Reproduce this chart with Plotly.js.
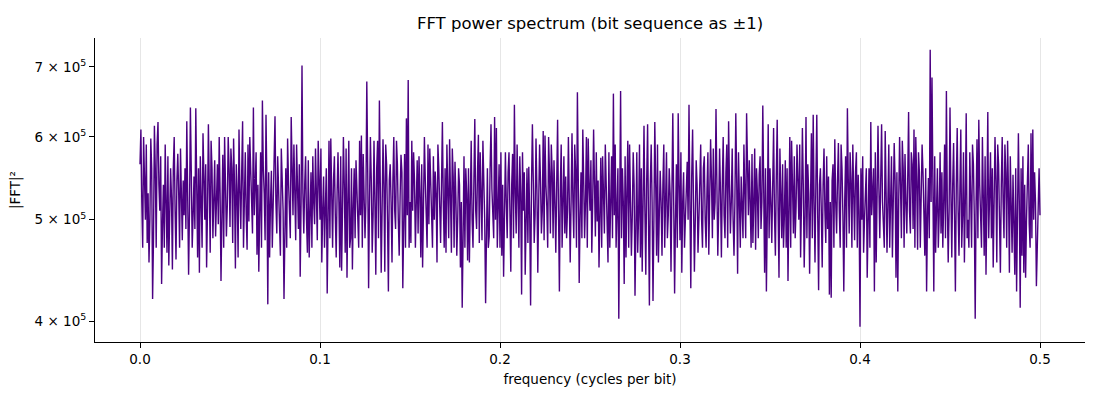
<!DOCTYPE html>
<html>
<head>
<meta charset="utf-8">
<script src="https://cdn.plot.ly/plotly-3.0.1.min.js"></script>
<style>
  body { margin: 0; background: #fff; }
  #chart { width: 1100px; height: 400px; }
</style>
</head>
<body>
<div id="chart"></div>
<script>
// bits in the sequence -> rfft bins at k / nBits, k = 0..nBits/2
const nBits = 2000

// |FFT|^2 per bin, in thousands
const powerK = [
  565,610,520,470,600,545,500,590,475,530,455,500,598,560,420,480,615,560,470,590,
  620,540,510,575,434,495,540,470,590,520,465,575,452,505,560,525,448,560,600,510,
  458,545,578,530,470,585,520,478,545,505,560,490,621,545,443,510,640,555,470,505,
  550,490,639,540,460,560,445,575,520,470,605,550,500,565,450,510,617,540,465,595,
  560,480,520,570,482,520,565,495,600,530,437,505,577,470,600,540,482,515,600,560,
  492,585,560,475,598,540,449,565,530,460,610,535,490,555,621,470,520,580,505,468,
  590,498,600,560,530,485,640,505,540,580,463,540,446,500,580,470,650,560,530,478,
  630,540,415,555,460,520,557,470,515,560,628,520,485,575,520,490,462,585,555,510,
  420,510,560,470,598,545,500,480,627,550,505,590,540,478,590,540,490,565,441,520,
  702,530,485,540,575,500,465,570,460,505,555,470,575,520,495,585,540,478,595,545,
  500,585,455,510,550,470,530,560,425,500,595,480,598,530,470,545,575,505,460,530,
  580,520,450,575,447,510,600,540,465,585,440,520,595,470,480,560,448,515,560,480,
  570,535,500,470,595,505,602,470,578,540,480,520,678,560,430,520,600,545,465,505,
  595,520,443,560,595,480,650,540,445,510,597,540,446,590,565,500,427,545,565,520,
  455,545,600,510,490,595,565,500,462,525,577,555,430,495,578,470,625,505,680,470,
  520,475,595,510,580,545,470,520,570,485,575,530,460,565,450,515,600,545,500,470,
  590,495,585,540,510,470,575,500,556,530,455,590,560,510,475,540,620,520,470,560,
  465,590,535,480,597,520,465,585,550,470,568,525,462,500,560,540,450,520,412,480,
  575,470,560,530,457,560,455,520,595,500,470,545,624,510,490,555,603,475,580,530,
  478,595,555,500,416,520,560,470,482,560,617,535,500,480,627,500,612,470,515,565,
  470,580,462,540,441,505,580,520,480,555,580,510,446,540,578,480,644,530,485,590,
  540,470,575,530,424,580,510,555,443,500,560,475,562,505,414,540,617,545,475,505,
  598,535,445,520,590,545,485,510,608,478,602,540,515,470,600,555,485,590,555,480,
  570,520,465,540,623,510,427,535,590,470,505,575,485,550,480,510,600,540,455,520,
  605,520,480,590,557,470,662,545,435,505,555,480,610,545,480,520,600,470,598,540,
  510,570,465,520,610,540,482,580,498,545,450,505,573,470,575,530,485,590,535,500,
  455,580,470,520,575,480,660,505,590,470,500,560,402,510,664,480,560,520,434,575,
  460,530,595,470,590,520,462,505,580,540,423,490,580,465,505,590,460,560,446,520,
  615,510,443,545,617,500,414,540,590,520,418,500,620,540,462,590,455,505,557,520,
  462,540,590,470,510,580,480,505,560,530,446,555,632,520,425,500,565,470,632,540,
  478,580,445,520,555,470,505,545,568,500,644,520,430,550,610,520,446,500,570,540,
  465,500,555,590,500,470,560,575,500,470,535,580,463,520,597,545,480,585,500,520,
  638,540,462,510,585,530,460,540,600,505,480,555,590,470,621,540,485,520,585,500,
  462,520,632,545,444,580,510,470,550,515,480,590,540,480,632,540,505,570,520,470,
  578,475,520,585,468,560,530,480,552,575,490,520,643,540,445,560,427,505,617,480,
  560,520,475,540,612,505,462,550,623,510,440,585,545,480,565,470,505,570,470,560,
  437,520,600,470,595,540,485,575,480,515,590,545,500,590,460,520,612,540,450,505,
  627,480,565,530,444,520,605,480,630,520,455,545,630,505,428,540,560,510,450,540,
  585,510,475,575,490,550,424,520,421,545,565,470,597,520,485,545,592,510,470,590,
  560,505,427,520,575,470,639,545,485,580,545,470,590,530,478,555,580,470,552,510,
  395,560,500,575,465,500,535,560,440,510,560,470,620,505,540,560,427,580,455,520,
  615,535,480,545,617,520,495,470,608,540,465,520,590,470,505,575,460,510,592,545,
  440,555,427,520,600,540,480,595,560,470,578,520,485,545,634,510,485,580,565,490,
  610,470,600,545,468,580,555,470,520,590,555,520,462,560,427,505,548,480,727,520,
  684,540,427,575,465,510,560,470,505,580,485,555,470,520,590,480,664,520,455,510,
  640,530,460,540,592,505,427,540,612,510,462,535,610,470,505,580,455,520,632,480,
  500,470,580,525,470,590,565,505,402,520,597,480,623,540,498,470,600,540,462,575,
  443,520,634,480,535,580,480,560,450,510,600,545,455,590,565,500,445,540,600,520,
  480,590,555,470,595,530,445,575,500,465,552,510,443,560,427,505,605,520,412,560,
  462,575,445,540,440,500,545,590,495,470,605,480,610,500,555,520,432,470,545,560,
  505
]

const freq = powerK.map((_, k) => k / nBits)
const power = powerK.map(v => v * 1000)

const yTickVals = [4e5, 5e5, 6e5, 7e5]
const yTickText = ['4 × 10<sup>5</sup>', '5 × 10<sup>5</sup>', '6 × 10<sup>5</sup>', '7 × 10<sup>5</sup>']
const xTickVals = [0, 0.1, 0.2, 0.3, 0.4, 0.5]

let trace0 = {
    type: 'scatter',
    mode: 'lines',
    x: freq,
    y: power,
    line: { color: '#4b0082', width: 1.4 },
    hoverinfo: 'skip'
}

let layout = {
    width: 1100,
    height: 400,
    margin: { l: 95, r: 15, t: 38, b: 58 },
    paper_bgcolor: '#fff',
    plot_bgcolor: '#fff',
    font: { family: 'DejaVu Sans, sans-serif', size: 14, color: '#000' },
    showlegend: false,
    title: {
        text: 'FFT power spectrum (bit sequence as ±1)',
        font: { size: 16.5 },
        x: 0.5364, xanchor: 'center',
        yref: 'container', y: 1 - 23 / 400, yanchor: 'middle'
    },
    xaxis: {
        range: [-0.025, 0.525],
        tickvals: xTickVals,
        tickformat: '.1f',
        showgrid: true,
        gridcolor: '#e6e6e6',
        gridwidth: 1,
        zeroline: false,
        showline: true,
        linecolor: '#000',
        linewidth: 1,
        ticks: 'outside',
        ticklen: 5,
        tickcolor: '#000',
        tickfont: { size: 13.5 },
        title: { text: 'frequency (cycles per bit)', font: { size: 13.5 }, standoff: 8 }
    },
    yaxis: {
        type: 'log',
        range: [Math.log10(3.82e5), Math.log10(7.46e5)],
        tickvals: yTickVals,
        ticktext: yTickText,
        showgrid: false,
        zeroline: false,
        showline: true,
        linecolor: '#000',
        linewidth: 1,
        ticks: 'outside',
        ticklen: 5,
        tickcolor: '#000',
        tickfont: { size: 13.5 },
        title: { text: '|FFT|²', font: { size: 13.5 }, standoff: 10 }
    }
}

Plotly.newPlot('chart', [trace0], layout, { displayModeBar: false, staticPlot: true })
</script>
</body>
</html>
